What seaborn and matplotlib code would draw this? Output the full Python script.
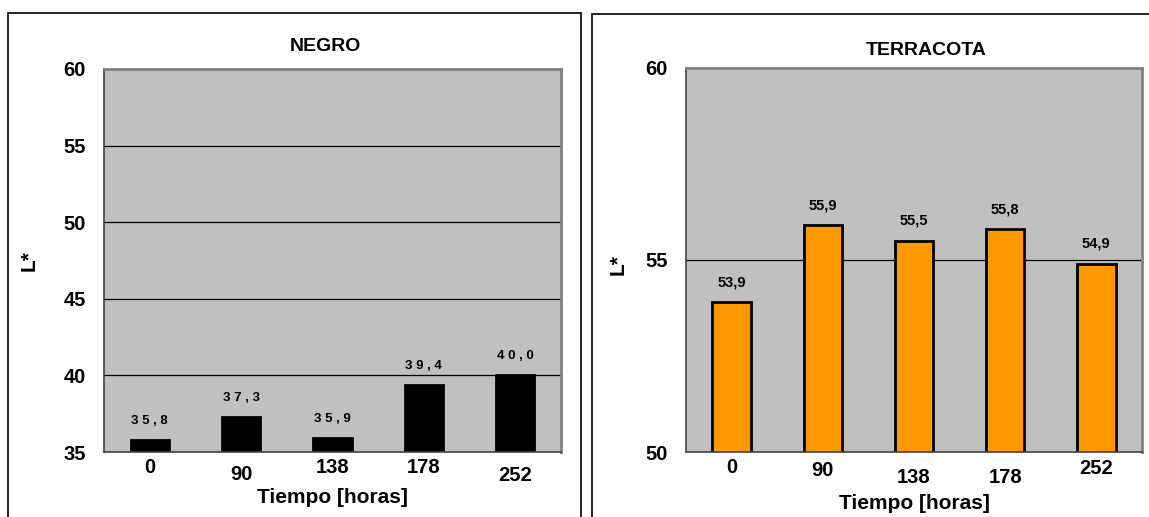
import matplotlib
matplotlib.use("Agg")
import matplotlib.pyplot as plt
import matplotlib.transforms as mtransforms
from matplotlib.patches import Rectangle
import pandas as pd
import seaborn as sns

# Data
horas = ["0", "90", "138", "178", "252"]
negro_L = [35.8, 37.3, 35.9, 39.4, 40.0]
terracota_L = [53.9, 55.9, 55.5, 55.8, 54.9]

# small vertical jitter of the tick labels as in the original (px, downward)
negro_tick_shift = [0, 7, 0, 0, 8]
terracota_tick_shift = [0, 3, 10, 10, 1]

sns.set_style("white")
plt.rcParams["font.family"] = ["Liberation Sans", "DejaVu Sans"]
plt.rcParams["text.color"] = "black"
plt.rcParams["axes.labelcolor"] = "black"
plt.rcParams["xtick.color"] = "black"
plt.rcParams["ytick.color"] = "black"

FIG_W, FIG_H = 1149, 517
fig = plt.figure(figsize=(FIG_W / 100, FIG_H / 100), dpi=100)


def px_box(x0, y0, x1, y1):
    """pixel box (top-left origin) -> figure fraction [l, b, w, h]"""
    return [x0 / FIG_W, 1 - y1 / FIG_H, (x1 - x0) / FIG_W, (y1 - y0) / FIG_H]


# outer chart frames
fig.patches.append(Rectangle((8 / FIG_W, -0.05), (581 - 8) / FIG_W, 1.05 - 13 / FIG_H,
                             transform=fig.transFigure, fill=False, edgecolor="black",
                             linewidth=1.2))
fig.patches.append(Rectangle((592 / FIG_W, -0.05), 0.5, 1.05 - 14 / FIG_H,
                             transform=fig.transFigure, fill=False, edgecolor="black",
                             linewidth=1.2))


def draw_panel(rect, values, title, ylim, yticks, grid_vals, bar_color, edge_color,
               label_fmt, label_size, tick_shift, title_xy, xlabel_y, ylabel_xy):
    ax = fig.add_axes(rect)
    df = pd.DataFrame({"Tiempo": horas, "L": values})
    sns.barplot(data=df, x="Tiempo", y="L", order=horas, color=bar_color,
                width=0.42, edgecolor=edge_color, linewidth=2, saturation=1, ax=ax)
    ax.set_facecolor("#C0C0C0")
    ax.set_ylim(*ylim)
    ax.set_xlim(-0.5, len(horas) - 0.5)
    ax.set_yticks(yticks)
    ax.set_yticklabels([str(t) for t in yticks], fontsize=14.5, fontweight="bold")
    for g in grid_vals:
        ax.axhline(g, color="black", linewidth=0.9, zorder=0.5)

    # x ticks between categories, labels centred under the bars
    ax.set_xticks([i - 0.5 for i in range(len(horas) + 1)], minor=False)
    ax.set_xticklabels([])
    ax.set_xticks(range(len(horas)), minor=True)
    ax.set_xticklabels(horas, minor=True, fontsize=14.5, fontweight="bold")
    ax.tick_params(axis="x", which="major", length=5, width=1, color="#404040", direction="out")
    ax.tick_params(axis="x", which="minor", length=0, pad=4)
    ax.tick_params(axis="y", length=6, width=1, color="#404040", direction="out", pad=7)
    for lab, dy in zip(ax.xaxis.get_minorticklabels(), tick_shift):
        lab.set_transform(lab.get_transform() +
                          mtransforms.ScaledTranslation(0, -dy / 100, fig.dpi_scale_trans))

    for side in ["top", "right"]:
        ax.spines[side].set_color("#808080")
        ax.spines[side].set_linewidth(2)
    for side in ["left", "bottom"]:
        ax.spines[side].set_color("#404040")
        ax.spines[side].set_linewidth(1.2)

    # value labels above bars
    for i, v in enumerate(values):
        ax.annotate(label_fmt(v), (i, v), xytext=(0, 13), textcoords="offset pixels",
                    ha="center", va="bottom", fontsize=label_size, fontweight="bold")

    ax.text(title_xy[0], title_xy[1], title, transform=ax.transAxes, ha="center",
            va="baseline", fontsize=14, fontweight="bold")
    ax.set_xlabel("Tiempo [horas]", fontsize=15, fontweight="bold")
    ax.xaxis.set_label_coords(0.5, xlabel_y)
    ax.set_ylabel("L*", fontsize=15, fontweight="bold")
    ax.yaxis.set_label_coords(*ylabel_xy)
    return ax


draw_panel(px_box(104, 69, 561, 452), negro_L, "NEGRO", (35, 60),
           [35, 40, 45, 50, 55, 60], [40, 45, 50, 55], "black", "black",
           lambda v: " ".join(f"{v:.1f}".replace(".", ",")), 9.5, negro_tick_shift,
           (0.484, 1.047), -0.094, (-0.144, 0.50))

draw_panel(px_box(686, 68, 1142, 452), terracota_L, "TERRACOTA", (50, 60),
           [50, 55, 60], [55], "#FF9900", "black",
           lambda v: f"{v:.1f}".replace(".", ","), 10.5, terracota_tick_shift,
           (0.526, 1.034), -0.109, (-0.129, 0.487))

fig.savefig("out.png", dpi=100)
